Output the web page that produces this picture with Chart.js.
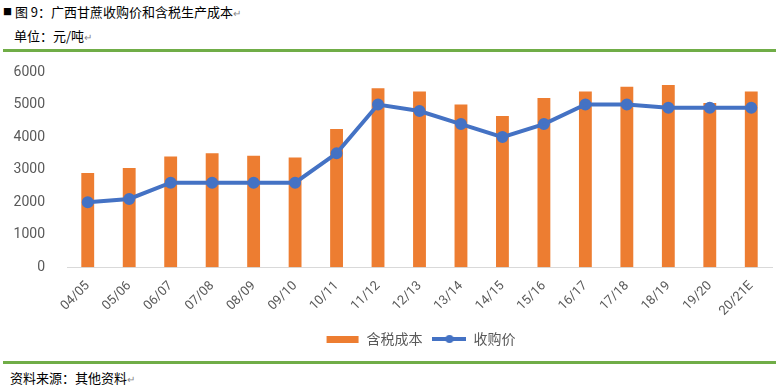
<!DOCTYPE html>
<html>
<head>
<meta charset="utf-8">
<script src="https://cdn.jsdelivr.net/npm/chart.js@4"></script>
<style>
  body { margin: 0; background: #fff; font-family: "Noto Sans CJK SC", sans-serif; }
  #wrap { position: relative; width: 780px; height: 390px; overflow: hidden; }
  .txt { position: absolute; font-size: 13px; color: #000; white-space: nowrap; }
  .mark { color: #888; font-size: 10px; }
  .rule { position: absolute; left: 3px; width: 773px; height: 3px; background: #70AD47; }
  #box { position: absolute; left: 0; top: 56px; width: 780px; height: 300px; }
</style>
</head>
<body>
<div id="wrap">
  <div class="txt" style="left:3px; top:2px;"><span style="font-size:9px; vertical-align:2px;">■</span> 图 9：广西甘蔗收购价和含税生产成本<span class="mark">↵</span></div>
  <div class="txt" style="left:14px; top:26px;">单位：元/吨<span class="mark">↵</span></div>
  <div class="rule" style="top:49px;"></div>
  <div id="box"><canvas id="c"></canvas></div>
  <div class="rule" style="top:361px;"></div>
  <div class="txt" style="left:10px; top:368px;">资料来源：其他资料<span class="mark">↵</span></div>
</div>
<script>
const seasons = ['04/05', '05/06', '06/07', '07/08', '08/09', '09/10', '10/11', '11/12', '12/13',
                 '13/14', '14/15', '15/16', '16/17', '17/18', '18/19', '19/20', '20/21E'];
const taxCost = [2900, 3050, 3400, 3500, 3430, 3370, 4250, 5500, 5400, 5000, 4650, 5200, 5400, 5550, 5600, 5050, 5400];
const purchasePrice = [2000, 2100, 2600, 2600, 2600, 2600, 3500, 5000, 4800, 4400, 4000, 4400, 5000, 5000, 4900, 4900, 4900];

const orange = '#ED7D31';
const blue = '#4472C4';
const grey = '#595959';

// legend swatches: orange bar block, blue line with a dot
function swatch(kind) {
    const cv = document.createElement('canvas');
    cv.width = 34; cv.height = 10;
    const g = cv.getContext('2d');
    if (kind === 'bar') {
        g.fillStyle = orange;
        g.fillRect(1, 2, 32, 7);
    } else {
        g.strokeStyle = blue;
        g.lineWidth = 4;
        g.beginPath(); g.moveTo(0, 5); g.lineTo(34, 5); g.stroke();
        g.fillStyle = blue;
        g.beginPath(); g.arc(17, 5, 4, 0, Math.PI * 2); g.fill();
    }
    return cv;
}

// center the legend under the plot area rather than the whole canvas
const shiftLegend = {
    id: 'shiftLegend',
    afterLayout(chart) {
        const dx = (chart.chartArea.left + chart.chartArea.right) / 2 - chart.width / 2;
        chart.legend.left += dx;
        chart.legend.right += dx;
    }
};

new Chart(document.getElementById('c'), {
    type: 'bar',
    data: {
        labels: seasons,
        datasets: [{
            type: 'line',
            label: '收购价',
            data: purchasePrice,
            borderColor: blue,
            backgroundColor: blue,
            borderWidth: 4,
            pointRadius: 4,
            pointHoverRadius: 4,
            tension: 0,
            order: 0
        }, {
            label: '含税成本',
            data: taxCost,
            backgroundColor: orange,
            barPercentage: 0.62,
            categoryPercentage: 0.5,
            order: 1
        }]
    },
    options: {
        responsive: true,
        maintainAspectRatio: false,
        animation: false,
        layout: { padding: { left: 8, right: 6, top: 16, bottom: 0 } },
        plugins: {
            legend: {
                position: 'bottom',
                reverse: true,
                labels: {
                    color: grey,
                    font: { family: '"Noto Sans CJK SC", sans-serif', size: 14 },
                    usePointStyle: true,
                    pointStyleWidth: 34,
                    boxHeight: 10,
                    padding: 10,
                    generateLabels(chart) {
                        const items = Chart.defaults.plugins.legend.labels.generateLabels(chart);
                        items.forEach(it => {
                            it.pointStyle = swatch(it.datasetIndex === 1 ? 'bar' : 'line');
                        });
                        return items;
                    }
                }
            },
            tooltip: { enabled: false }
        },
        scales: {
            x: {
                grid: { display: false },
                border: { color: '#D9D9D9', width: 1 },
                afterFit: s => { s.paddingLeft = 0; s.paddingRight = 0; },
                ticks: {
                    color: grey,
                    font: { family: 'Roboto, sans-serif', size: 13 },
                    maxRotation: 45,
                    minRotation: 45,
                    autoSkip: false
                }
            },
            y: {
                min: 0,
                max: 6000,
                grid: { display: false },
                border: { display: false },
                afterFit: s => { s.width = 59; s.paddingTop = 0; s.paddingBottom = 0; },
                ticks: {
                    stepSize: 1000,
                    color: grey,
                    font: { family: 'Roboto, sans-serif', size: 14 },
                    padding: 14,
                    callback: v => String(v)
                }
            }
        }
    },
    plugins: [shiftLegend]
});
</script>
</body>
</html>
